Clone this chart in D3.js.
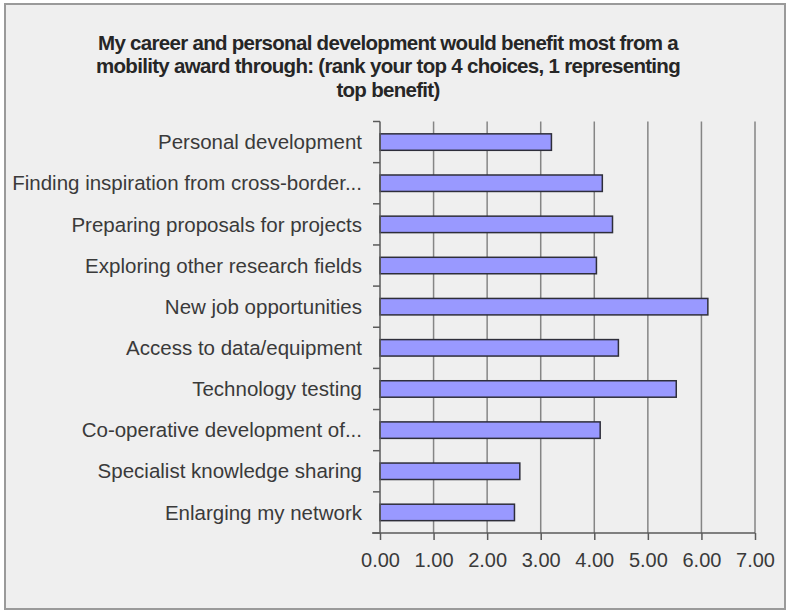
<!DOCTYPE html>
<html>
<head>
<meta charset="utf-8">
<script src="https://cdn.jsdelivr.net/npm/d3@7"></script>
<style>
  html, body { margin: 0; padding: 0; background: #ffffff; }
  svg { display: block; }
</style>
</head>
<body>
<svg id="chart" width="788" height="612"></svg>
<script>
// Average benefit scores per option (top to bottom)
const categories = [
  "Personal development",
  "Finding inspiration from cross-border...",
  "Preparing proposals for projects",
  "Exploring other research fields",
  "New job opportunities",
  "Access to data/equipment",
  "Technology testing",
  "Co-operative development of...",
  "Specialist knowledge sharing",
  "Enlarging my network"
];
const values = [3.20, 4.15, 4.34, 4.04, 6.12, 4.45, 5.53, 4.11, 2.61, 2.51];
const tickValues = [0, 1, 2, 3, 4, 5, 6, 7];
const titleLines = [
  "My career and personal development would benefit most from a",
  "mobility award through: (rank your top 4 choices, 1 representing",
  "top benefit)"
];

const svg = d3.select("#chart");
const W = 788, H = 612;
const plot = { left: 380, right: 755, top: 121.5, bottom: 533 };
const font = "Liberation Sans, Arial, sans-serif";

// Panel background and frame
svg.append("rect").attr("x", 0).attr("y", 0).attr("width", W).attr("height", H).attr("fill", "#ffffff");
svg.append("rect")
  .attr("x", 5).attr("y", 4).attr("width", 780).attr("height", 605)
  .attr("fill", "#efefef").attr("stroke", "#9a9a9a").attr("stroke-width", 2);

// Title
const title = svg.append("text")
  .attr("text-anchor", "middle")
  .attr("font-family", font)
  .attr("font-weight", "bold")
  .attr("font-size", 20.5)
  .attr("letter-spacing", -0.7)
  .attr("fill", "#262626");
titleLines.forEach((line, i) => {
  title.append("tspan").attr("x", 388).attr("y", 49.5 + i * 23.5).text(line);
});

const x = d3.scaleLinear().domain([0, 7]).range([plot.left, plot.right]);
const y = d3.scaleBand().domain(categories).range([plot.top, plot.bottom])
  .paddingInner(0.6).paddingOuter(0.3);

// Vertical gridlines
svg.append("g").selectAll("line")
  .data(tickValues.filter(v => v > 0))
  .join("line")
  .attr("x1", d => x(d)).attr("x2", d => x(d))
  .attr("y1", plot.top).attr("y2", plot.bottom)
  .attr("stroke", "#858585").attr("stroke-width", 1.5);

// Bars
svg.append("g").selectAll("rect")
  .data(values)
  .join("rect")
  .attr("x", x(0))
  .attr("y", (d, i) => y(categories[i]))
  .attr("width", d => x(d) - x(0))
  .attr("height", y.bandwidth())
  .attr("fill", "#9999ff")
  .attr("stroke", "#2e2e3a")
  .attr("stroke-width", 1.5);

// Category axis: boundary ticks between bands
const axisColor = "#5a5a5a";
const gy = svg.append("g");
gy.append("line")
  .attr("x1", plot.left).attr("x2", plot.left)
  .attr("y1", plot.top).attr("y2", plot.bottom)
  .attr("stroke", axisColor).attr("stroke-width", 1.5);
const step = y.step();
const bounds = d3.range(categories.length + 1).map(i => plot.top + i * step);
gy.selectAll("line.tick").data(bounds).join("line")
  .attr("class", "tick")
  .attr("x1", plot.left - 7).attr("x2", plot.left)
  .attr("y1", d => d).attr("y2", d => d)
  .attr("stroke", axisColor).attr("stroke-width", 1.5);
gy.selectAll("text").data(categories).join("text")
  .attr("x", plot.left - 18)
  .attr("y", d => y(d) + y.bandwidth() / 2)
  .attr("dy", "0.35em")
  .attr("text-anchor", "end")
  .attr("font-family", font)
  .attr("font-size", 20.5)
  .attr("fill", "#3a3a3a")
  .text(d => d);

// Value axis
const xAxis = d3.axisBottom(x)
  .tickValues(tickValues)
  .tickFormat(d3.format(".2f"))
  .tickSizeInner(7)
  .tickSizeOuter(0)
  .tickPadding(13);
const gx = svg.append("g")
  .attr("transform", `translate(0,${plot.bottom})`)
  .call(xAxis);
gx.select(".domain")
  .attr("d", `M${plot.left - 8},0H${plot.right}`)
  .attr("stroke", axisColor).attr("stroke-width", 1.5);
gx.selectAll(".tick line").attr("stroke", axisColor).attr("stroke-width", 1.5);
gx.selectAll(".tick text")
  .attr("font-family", font)
  .attr("font-size", 20)
  .attr("fill", "#3a3a3a");
</script>
</body>
</html>
